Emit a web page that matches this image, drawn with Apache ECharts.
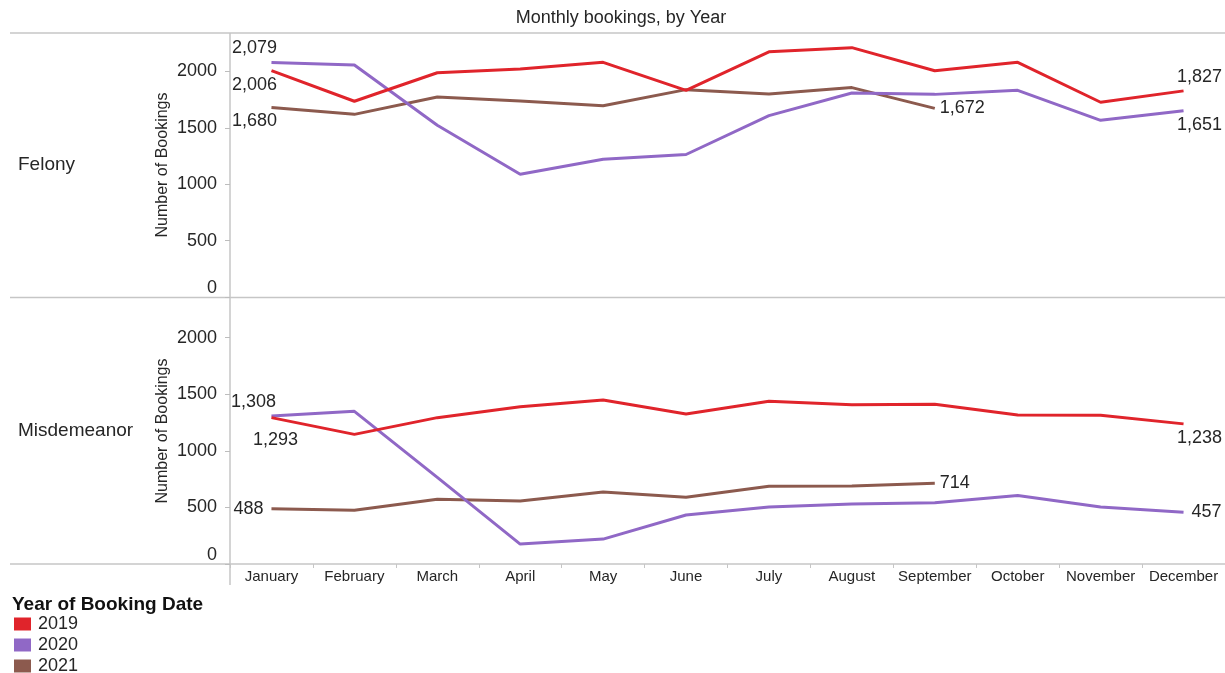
<!DOCTYPE html>
<html>
<head>
<meta charset="utf-8">
<script src="https://cdn.jsdelivr.net/npm/echarts@6/dist/echarts.min.js"></script>
<style>html,body{margin:0;padding:0;background:#fff;}#c{width:1225px;height:673px;}</style>
</head>
<body>
<div id="c"></div>
<script>
const months = ['January','February','March','April','May','June','July','August','September','October','November','December'];
const years = ['2019','2020','2021'];
const yTicks = [0, 500, 1000, 1500, 2000];

const felony2019 = [2006,1735,1988,2020,2080,1832,2173,2210,2005,2080,1726,1827];
const felony2020 = [2079,2056,1522,1088,1221,1263,1608,1808,1796,1832,1566,1651];
const felony2021 = [1680,1619,1772,1737,1696,1838,1799,1856,1672];

const misd2019 = [1293,1145,1293,1390,1449,1325,1438,1408,1411,1316,1314,1238];
const misd2020 = [1308,1349,765,176,220,433,504,530,542,605,504,457];
const misd2021 = [488,474,572,557,637,590,687,690,714];

const colors = {'2019':'#e0242b','2020':'#9068c6','2021':'#8c5a4e'};
const FONT = "'Liberation Sans', Arial, sans-serif";
const TXT = '#262626';

// label placement (style only): index -> [dx, dy, align, verticalAlign]
const labelSpec = {
  f2019: {0:[-17,5,'center','top'], 11:[16,-5,'center','bottom']},
  f2020: {0:[-17,-5,'center','bottom'], 11:[16,5,'center','top']},
  f2021: {0:[-17,5,'center','top'], 8:[5,0,'left','middle']},
  m2019: {0:[4,13,'center','top'], 11:[16,5,'center','top']},
  m2020: {0:[-18,-5,'center','bottom'], 11:[8,0,'left','middle']},
  m2021: {0:[-8,0,'right','middle'], 8:[5,0,'left','middle']}
};

function fmt(v){ return Number(v).toLocaleString('en-US'); }

function build(values, spec){
  return values.map((v,i)=>{
    const s = spec[i];
    if(s){
      return {value:v, label:{show:true, position:[s[0], s[1]], align:s[2], verticalAlign:s[3],
        formatter:(p)=>fmt(p.value), fontSize:18, fontFamily:FONT, color:TXT}};
    }
    return v;
  });
}

function series(name, values, spec, idx){
  return {
    name:name, type:'line', xAxisIndex:idx, yAxisIndex:idx,
    data: build(values, spec),
    color: colors[name],
    lineStyle:{width:3, color:colors[name]},
    symbol:'circle', symbolSize:0, showSymbol:true, showAllSymbol:true,
    itemStyle:{color:colors[name]},
    label:{show:false},
    labelLayout:{hideOverlap:false},
    emphasis:{disabled:true},
    z: name==='2019'?4:(name==='2020'?3:2)
  };
}

function yAxis(idx, max){
  return {
    type:'value', gridIndex:idx, min:0, max:max, interval:500,
    name:'Number of Bookings', nameLocation:'middle', nameGap:59, nameRotate:90,
    nameMoveOverlap:false,
    nameTextStyle:{fontSize:16, fontFamily:FONT, color:TXT},
    axisLine:{show:false},
    axisTick:{show:true, length:5, lineStyle:{color:'#bdbdbd'}, customValues:yTicks},
    splitLine:{show:false},
    axisLabel:{
      customValues:yTicks, margin:13, color:TXT, fontFamily:FONT, fontSize:18,
      formatter:(v)=> v===0 ? '{z|0}' : '{n|'+v+'}',
      rich:{
        n:{fontSize:18, fontFamily:FONT, color:TXT},
        z:{fontSize:18, fontFamily:FONT, color:TXT, padding:[0,0,18,0]}
      }
    }
  };
}

const lineStyle = {stroke:'#c6c6c6', lineWidth:1.5};

const option = {
  animation:false,
  backgroundColor:'#fff',
  grid:[
    {left:230, right:0, top:33, height:264},
    {left:230, right:0, top:298, height:266}
  ],
  xAxis:[
    {type:'category', gridIndex:0, data:months, boundaryGap:true,
     axisLine:{show:false}, axisTick:{show:false}, axisLabel:{show:false}},
    {type:'category', gridIndex:1, data:months, boundaryGap:true,
     axisLine:{show:true, lineStyle:{color:'#c6c6c6', width:1.5}},
     axisTick:{show:true, length:4, lineStyle:{color:'#c6c6c6'}},
     axisLabel:{show:true, interval:0, margin:5, fontSize:15, fontFamily:FONT, color:TXT}}
  ],
  yAxis:[ yAxis(0, 2340), yAxis(1, 2350) ],
  legend:{
    data:years, orient:'vertical', left:14, top:615, height:80, padding:0,
    icon:'rect', itemWidth:17, itemHeight:13, itemGap:3,
    textStyle:{fontSize:18, fontFamily:FONT, color:TXT, padding:[0,0,0,2]},
    selectedMode:false
  },
  series:[
    series('2021', felony2021, labelSpec.f2021, 0),
    series('2020', felony2020, labelSpec.f2020, 0),
    series('2019', felony2019, labelSpec.f2019, 0),
    series('2021', misd2021, labelSpec.m2021, 1),
    series('2020', misd2020, labelSpec.m2020, 1),
    series('2019', misd2019, labelSpec.m2019, 1)
  ],
  graphic:[
    {type:'text', x:621, y:18, style:{text:'Monthly bookings, by Year', fontSize:18, fontFamily:FONT, fill:TXT, align:'center', verticalAlign:'middle'}},
    {type:'line', shape:{x1:10, y1:33, x2:1225, y2:33}, style:lineStyle, silent:true},
    {type:'line', shape:{x1:10, y1:297.5, x2:1225, y2:297.5}, style:lineStyle, silent:true},
    {type:'line', shape:{x1:10, y1:564, x2:230, y2:564}, style:lineStyle, silent:true},
    {type:'line', shape:{x1:230, y1:33, x2:230, y2:585}, style:lineStyle, silent:true},
    {type:'text', x:18, y:165, style:{text:'Felony', fontSize:19, fontFamily:FONT, fill:TXT, verticalAlign:'middle'}},
    {type:'text', x:18, y:431, style:{text:'Misdemeanor', fontSize:19, fontFamily:FONT, fill:TXT, verticalAlign:'middle'}},
    {type:'text', x:12, y:605, style:{text:'Year of Booking Date', fontSize:19, fontWeight:'bold', fontFamily:FONT, fill:'#111', verticalAlign:'middle'}}
  ]
};

const chart = echarts.init(document.getElementById('c'), null, {renderer:'canvas'});
chart.setOption(option);
</script>
</body>
</html>
